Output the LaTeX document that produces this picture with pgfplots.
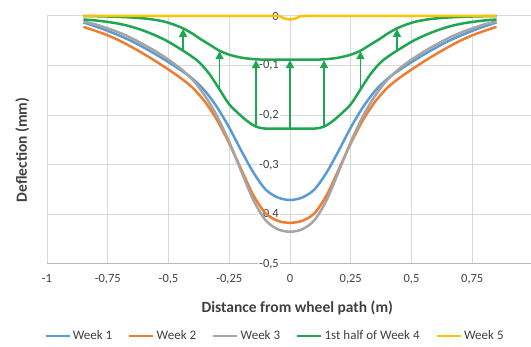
\documentclass[border=0pt]{standalone}
\usepackage{pgfplots}
\pgfplotsset{compat=1.18}
\usepackage{fontspec}
\setmainfont{Carlito}
\usetikzlibrary{arrows.meta}

\definecolor{wkone}{HTML}{5B9BD5}
\definecolor{wktwo}{HTML}{ED7D31}
\definecolor{wkthree}{HTML}{A5A5A5}
\definecolor{wkfour}{HTML}{1FA650}
\definecolor{wkfive}{HTML}{FFC000}
\definecolor{gridgray}{HTML}{D9D9D9}
\definecolor{txt}{HTML}{404040}

\pgfplotsset{recovery/.style={wkfour, line width=1.8pt, forget plot,
  -{Triangle[length=8pt,width=8pt]}}}

\begin{document}
\begin{tikzpicture}
\begin{axis}[
  at={(47pt,83pt)}, anchor=south west,
  scale only axis, width=486pt, height=248pt,
  xmin=-1, xmax=1, ymin=-0.5, ymax=0,
  xtick={-1,-0.75,-0.5,-0.25,0,0.25,0.5,0.75,1},
  ytick={-0.5,-0.4,-0.3,-0.2,-0.1,0},
  grid=major, grid style={gridgray, line width=1pt},
  major tick length=0pt,
  axis x line*=bottom,
  x axis line style={-, draw=black!28, line width=1pt},
  y axis line style={draw=none},
  clip=false,
  /pgf/number format/assume math mode=true,
  /pgf/number format/use comma,
  ticklabel style={font=\fontsize{12.5}{14}\selectfont, text=txt},
  xticklabel style={yshift=-7pt},
  yticklabel style={xshift=233pt, fill=white, inner sep=1pt},
  xlabel={Distance from wheel path (m)},
  ylabel={Deflection (mm)},
  xlabel style={font=\fontsize{15.5}{18}\selectfont\bfseries, text=txt,
    at={(axis description cs:0.515,-0.177)}, anchor=center},
  ylabel style={font=\fontsize{15.5}{18}\selectfont\bfseries, text=txt,
    at={(axis description cs:-0.051,0.46)}, anchor=center},
  legend columns=-1,
  legend style={at={(axis description cs:0.469,-0.29)}, anchor=center,
    draw=none, font=\fontsize{13}{15}\selectfont, text=txt,
    /tikz/every even column/.append style={column sep=14pt}},
  legend image code/.code={\draw[#1] (0pt,0pt) -- (24pt,0pt);},
]

% Week 1
\addplot[wkone, line width=2.5pt, smooth] coordinates {
(-0.85,-0.013) (-0.80,-0.021) (-0.75,-0.030) (-0.70,-0.040) (-0.65,-0.051)
(-0.60,-0.064) (-0.55,-0.078) (-0.50,-0.093) (-0.45,-0.109) (-0.40,-0.127)
(-0.35,-0.151) (-0.30,-0.184) (-0.25,-0.225) (-0.20,-0.272) (-0.15,-0.316)
(-0.10,-0.350) (-0.05,-0.366) (0,-0.371)
(0.05,-0.366) (0.10,-0.350) (0.15,-0.316) (0.20,-0.272) (0.25,-0.225)
(0.30,-0.184) (0.35,-0.151) (0.40,-0.127) (0.45,-0.109) (0.50,-0.093)
(0.55,-0.078) (0.60,-0.064) (0.65,-0.051) (0.70,-0.040) (0.75,-0.030)
(0.80,-0.021) (0.85,-0.013)};
\addlegendentry{Week 1}

% Week 2
\addplot[wktwo, line width=2.5pt, smooth] coordinates {
(-0.85,-0.022) (-0.80,-0.030) (-0.75,-0.039) (-0.70,-0.050) (-0.65,-0.063)
(-0.60,-0.077) (-0.55,-0.092) (-0.50,-0.108) (-0.45,-0.125) (-0.40,-0.145)
(-0.35,-0.173) (-0.30,-0.210) (-0.25,-0.257) (-0.20,-0.310) (-0.15,-0.362)
(-0.10,-0.398) (-0.05,-0.413) (0,-0.417)
(0.05,-0.413) (0.10,-0.398) (0.15,-0.362) (0.20,-0.310) (0.25,-0.257)
(0.30,-0.210) (0.35,-0.173) (0.40,-0.145) (0.45,-0.125) (0.50,-0.108)
(0.55,-0.092) (0.60,-0.077) (0.65,-0.063) (0.70,-0.050) (0.75,-0.039)
(0.80,-0.030) (0.85,-0.022)};
\addlegendentry{Week 2}

% Week 3
\addplot[wkthree, line width=2.5pt, smooth] coordinates {
(-0.85,-0.011) (-0.80,-0.017) (-0.75,-0.025) (-0.70,-0.034) (-0.65,-0.045)
(-0.60,-0.058) (-0.55,-0.072) (-0.50,-0.088) (-0.45,-0.106) (-0.40,-0.129)
(-0.35,-0.161) (-0.30,-0.202) (-0.25,-0.254) (-0.20,-0.314) (-0.15,-0.372)
(-0.10,-0.412) (-0.05,-0.430) (0,-0.435)
(0.05,-0.430) (0.10,-0.412) (0.15,-0.372) (0.20,-0.314) (0.25,-0.254)
(0.30,-0.202) (0.35,-0.161) (0.40,-0.129) (0.45,-0.106) (0.50,-0.088)
(0.55,-0.072) (0.60,-0.058) (0.65,-0.045) (0.70,-0.034) (0.75,-0.025)
(0.80,-0.017) (0.85,-0.011)};
\addlegendentry{Week 3}

% Week 4, first half: start of the period
\addplot[wkfour, line width=2.5pt, smooth] coordinates {
(-0.85,-0.007) (-0.80,-0.009) (-0.75,-0.012) (-0.70,-0.016) (-0.65,-0.022)
(-0.60,-0.030) (-0.55,-0.040) (-0.50,-0.052) (-0.44,-0.070) (-0.40,-0.083)
(-0.37,-0.095) (-0.33,-0.118) (-0.29,-0.148) (-0.25,-0.178) (-0.20,-0.202)
(-0.17,-0.214) (-0.14,-0.223) (-0.10,-0.227) (0,-0.227)
(0.10,-0.227) (0.14,-0.223) (0.17,-0.214) (0.20,-0.202) (0.25,-0.178)
(0.29,-0.148) (0.33,-0.118) (0.37,-0.095) (0.40,-0.083) (0.44,-0.070)
(0.50,-0.052) (0.55,-0.040) (0.60,-0.030) (0.65,-0.022) (0.70,-0.016)
(0.75,-0.012) (0.80,-0.009) (0.85,-0.007)};
\addlegendentry{1st half of Week 4}

% Week 4, first half: after recovery
\addplot[wkfour, line width=2.5pt, smooth, forget plot] coordinates {
(-0.85,0) (-0.75,-0.001) (-0.65,-0.003) (-0.58,-0.006) (-0.52,-0.011)
(-0.48,-0.017) (-0.44,-0.025) (-0.40,-0.036) (-0.37,-0.046) (-0.33,-0.058)
(-0.29,-0.070) (-0.25,-0.078) (-0.20,-0.084) (-0.15,-0.087) (-0.10,-0.088)
(0,-0.088)
(0.10,-0.088) (0.15,-0.087) (0.20,-0.084) (0.25,-0.078) (0.29,-0.070)
(0.33,-0.058) (0.37,-0.046) (0.40,-0.036) (0.44,-0.025) (0.48,-0.017)
(0.52,-0.011) (0.58,-0.006) (0.65,-0.003) (0.75,-0.001) (0.85,0)};

% recovery arrows between the two Week 4 profiles
\addplot[recovery] coordinates {(-0.44,-0.070) (-0.44,-0.026)};
\addplot[recovery] coordinates {(-0.29,-0.146) (-0.29,-0.071)};
\addplot[recovery] coordinates {(-0.14,-0.221) (-0.14,-0.089)};
\addplot[recovery] coordinates {(0,-0.225) (0,-0.089)};
\addplot[recovery] coordinates {(0.14,-0.221) (0.14,-0.089)};
\addplot[recovery] coordinates {(0.29,-0.146) (0.29,-0.071)};
\addplot[recovery] coordinates {(0.44,-0.070) (0.44,-0.026)};

% Week 5
\addplot[wkfive, line width=2.5pt, smooth] coordinates {
(-0.85,0) (-0.30,0) (-0.06,0) (-0.03,-0.004) (0,-0.007) (0.03,-0.004)
(0.06,0) (0.30,0) (0.85,0)};
\addlegendentry{Week 5}

\end{axis}
\pgfresetboundingbox
\path[use as bounding box] (0,0) rectangle (531pt,347pt);
\end{tikzpicture}
\end{document}
